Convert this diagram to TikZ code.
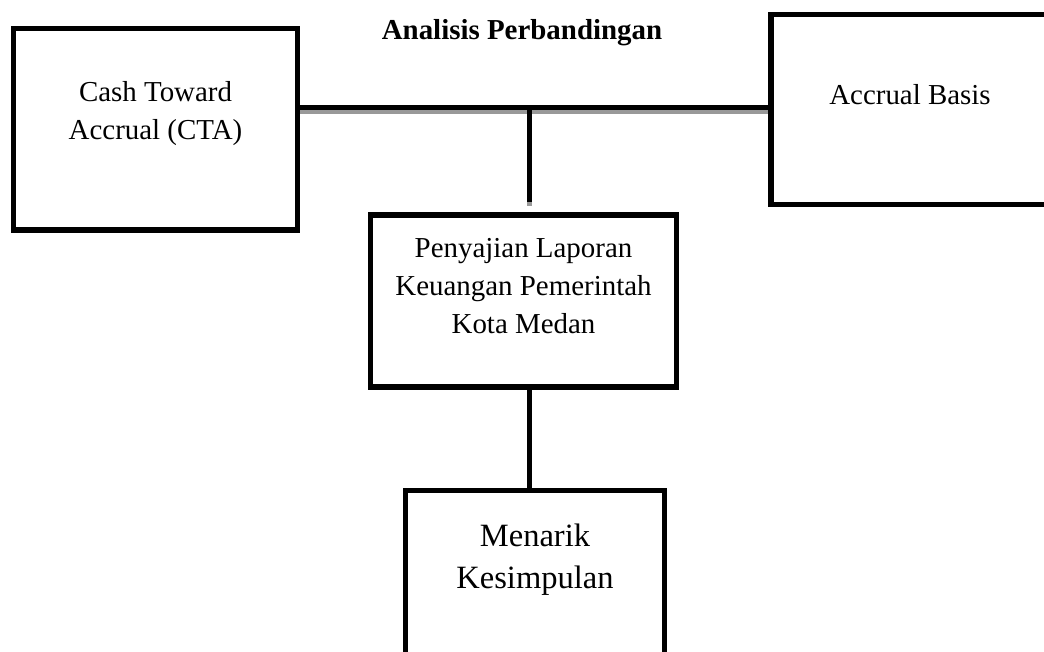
\documentclass[tikz,border=0pt]{standalone}
\usepackage{fontspec}
\setmainfont{Liberation Serif}
\usetikzlibrary{positioning,calc}
\definecolor{shadowgray}{RGB}{153,153,153}
\newcommand{\pxu}{0.415pt}

\begin{document}
\begin{tikzpicture}[x=0.415pt,y=-0.415pt,
    box/.style={draw,line width=2.1pt,inner sep=0pt},
    txt/.style={align=center,inner sep=0pt,font=\fontsize{12}{15.8}\selectfont},
    link/.style={line width=2.1pt}]
  \useasboundingbox (0,0) rectangle (1044,651);
  \clip (0,0) rectangle (1044,651);

  \node[font=\fontsize{12}{14.5}\selectfont\bfseries] (title) at (522,33) {Analisis Perbandingan};

  \node[box,minimum width=284*\pxu,minimum height=201.5*\pxu] (cta) at (155.5,129.25) {};
  \node[box,minimum width=278*\pxu,minimum height=190*\pxu] (acc) at (910,109.5) {};
  \node[box,minimum width=306*\pxu,minimum height=172*\pxu] (pen) at (523.5,301) {};
  \node[box,minimum width=259*\pxu,minimum height=200*\pxu] (mk) at (535,590.5) {};

  \node[txt] (ctatxt) at ([yshift=-88*\pxu]cta.north) {Cash Toward\\Accrual (CTA)};
  \node[txt] (acctxt) at ([yshift=-82.5*\pxu]acc.north) {Accrual Basis};
  \node[txt] (pentxt) at ([yshift=-74*\pxu]pen.north) {Penyajian Laporan\\Keuangan Pemerintah\\Kota Medan};
  \node[txt,font=\fontsize{13.5}{17.4}\selectfont] (mktxt) at ([yshift=-71.5*\pxu]mk.north) {Menarik\\Kesimpulan};

  \coordinate (hub) at (529.5,107.5);
  \draw[shadowgray,line width=1.7pt] ($(hub -| cta.east)+(0,4.5)$) -- ($(hub -| acc.west)+(0,4.5)$);
  \draw[link] (hub -| cta.east) -- (hub -| acc.west);
  \draw[link] (hub) -- ($(hub |- pen.north)+(0,-10)$);
  \draw[shadowgray,line width=2.1pt] ($(hub |- pen.north)+(0,-10)$) -- ($(hub |- pen.north)+(0,-6)$);
  \draw[link] (pen.south -| hub) -- (mk.north -| hub);
\end{tikzpicture}
\end{document}
